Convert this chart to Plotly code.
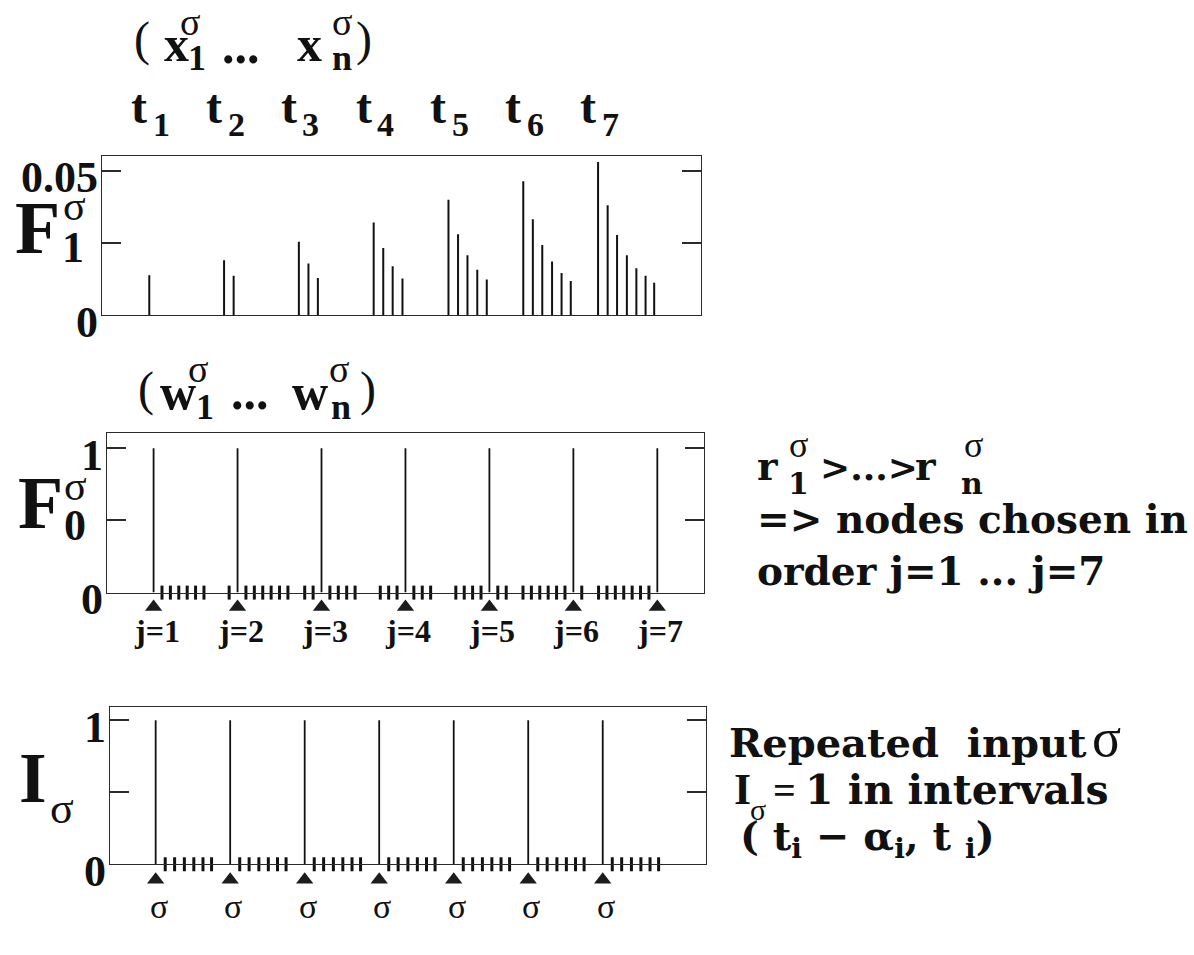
import plotly.graph_objects as go

INK = "#111111"
FRAME = "#2a2a2a"
W, H = 1194, 955

# ---- top panel: F1 activity, one burst per presentation time t_i ----
t_index = [1, 2, 3, 4, 5, 6, 7]
t_labels = ["1", "2", "3", "4", "5", "6", "7"]
node_offsets = [0.0, 0.128, 0.254, 0.385, 0.512, 0.635, 0.75]
f1_values = [
    [0.0138],
    [0.0190, 0.0136],
    [0.0254, 0.0179, 0.0129],
    [0.0321, 0.0232, 0.0169, 0.0127],
    [0.0399, 0.0280, 0.0207, 0.0157, 0.0123],
    [0.0463, 0.0332, 0.0243, 0.0186, 0.0146, 0.0118],
    [0.0530, 0.0380, 0.0277, 0.0207, 0.0162, 0.0136, 0.0112],
]
f1_ticks = [0, 0.025, 0.05]
f1_ticktext = ["0", "", "0.05"]

# ---- middle panel: F0 winners along the node index ----
f0_nodes = [1, 11, 21, 31, 41, 51, 61]
f0_values = [1, 1, 1, 1, 1, 1, 1]
f0_labels = ["j=1", "j=2", "j=3", "j=4", "j=5", "j=6", "j=7"]
f0_idle_nodes = [2, 3, 4, 5, 6, 7, 10, 12, 13, 14, 15, 16, 17, 19, 20, 22, 23, 24,
                 25, 28, 29, 30, 32, 33, 34, 37, 38, 39, 40, 42, 43, 45, 46, 47,
                 48, 49, 50, 52, 54, 55, 56, 57, 58, 59, 60]
unit_ticks = [0, 0.5, 1]
unit_ticktext = ["0", "", "1"]

# ---- bottom panel: repeated input pulses ----
input_times = [1, 2, 3, 4, 5, 6, 7]
input_values = [1, 1, 1, 1, 1, 1, 1]
input_labels = ["σ", "σ", "σ", "σ", "σ", "σ", "σ"]


def spikes(xs, ys):
    """Vertical sticks from zero up to each value, as one broken line."""
    lx, ly = [], []
    for x, y in zip(xs, ys):
        lx += [x, x, None]
        ly += [0, y, None]
    return lx, ly


def node_marks(xs, xa, ya):
    return go.Scatter(x=xs, y=[0] * len(xs), mode="markers",
                      marker=dict(symbol="line-ns", size=10,
                                  line=dict(color=INK, width=3)),
                      xaxis=xa, yaxis=ya, cliponaxis=False, hoverinfo="skip")


def arrows(xs, xa, ya):
    return go.Scatter(x=xs, y=[0.5] * len(xs), mode="markers",
                      marker=dict(symbol="triangle-up", size=15, color="#1c1c1c"),
                      xaxis=xa, yaxis=ya, hoverinfo="skip")


fig = go.Figure()

# top panel sticks
f1_x, f1_y = [], []
for t, vals in zip(t_index, f1_values):
    for off, v in zip(node_offsets, vals):
        f1_x.append(t + off)
        f1_y.append(v)
sx, sy = spikes(f1_x, f1_y)
fig.add_trace(go.Scatter(x=sx, y=sy, mode="lines", line=dict(color=INK, width=2),
                         xaxis="x", yaxis="y", hoverinfo="skip"))

# middle panel sticks, idle-node marks and winner arrows (arrows sit in a strip below)
sx, sy = spikes(f0_nodes, f0_values)
fig.add_trace(go.Scatter(x=sx, y=sy, mode="lines", line=dict(color=INK, width=1.8),
                         xaxis="x2", yaxis="y2", hoverinfo="skip"))
fig.add_trace(node_marks(f0_idle_nodes, "x2", "y2"))
fig.add_trace(arrows(f0_nodes, "x4", "y4"))

# bottom panel sticks, node marks after each pulse and pulse arrows
sx, sy = spikes(input_times, input_values)
fig.add_trace(go.Scatter(x=sx, y=sy, mode="lines", line=dict(color=INK, width=1.8),
                         xaxis="x3", yaxis="y3", hoverinfo="skip"))
trail_x = [t + off for t in input_times for off in node_offsets[1:]]
fig.add_trace(node_marks(trail_x, "x3", "y3"))
fig.add_trace(arrows(input_times, "x5", "y5"))


def xaxis(left, right, rng, anchor):
    return dict(domain=[left / W, right / W], range=rng, showline=True, mirror=True,
                linecolor=FRAME, linewidth=1.3, ticks="", showticklabels=False,
                showgrid=False, zeroline=False, fixedrange=True, anchor=anchor)


def yaxis(top, bottom, rng, vals, text, anchor):
    return dict(domain=[1 - bottom / H, 1 - top / H], range=rng, showline=True,
                mirror="ticks", linecolor=FRAME, linewidth=1.3, ticks="inside",
                ticklen=19, tickwidth=1.5, tickcolor=FRAME, tickvals=vals, ticktext=text,
                tickfont=dict(family="Liberation Serif", size=44, color=INK, weight="bold"),
                ticklabelstandoff=-6, ticklabelshift=6, anchor=anchor,
                showgrid=False, zeroline=False, fixedrange=True)


def strip_x(left, right, rng, anchor):
    return dict(domain=[left / W, right / W], range=rng, visible=False,
                fixedrange=True, anchor=anchor)


def strip_y(top, bottom, anchor):
    return dict(domain=[1 - bottom / H, 1 - top / H], range=[0, 1], visible=False,
                fixedrange=True, anchor=anchor)


annotations = []
ASC = {"Liberation Serif": (0.891, 0.216), "DejaVu Serif": (0.928, 0.236)}


def put(text, x, base, size, family="Liberation Serif", anchor="center",
        xref="paper", xshift=0):
    a, d = ASC[family]
    yc = base - (a - d) / 2 * size
    annotations.append(dict(
        text=text, x=(x / W if xref == "paper" else x), y=1 - yc / H,
        xref=xref, yref="paper", xanchor=anchor, yanchor="middle",
        xshift=xshift, showarrow=False,
        font=dict(family=family, size=size, color=INK)))


# header above the top panel
put("(", 142, 53, 48)
put("<b>x</b>", 176, 58, 50)
put("σ", 190, 32, 38)
put("<b>1</b>", 197, 68, 36)
put("<b>...</b>", 241, 60, 50)
put("<b>x</b>", 309, 58, 50)
put("σ", 342, 32, 38)
put("<b>n</b>", 342, 68, 36)
put(")", 364, 53, 48)

# presentation times above each burst
for t, lab in zip(t_index, t_labels):
    put("<b>t</b>", t, 123, 48, xref="x", xshift=-10)
    put("<b>" + lab + "</b>", t, 137, 34, xref="x", xshift=12)

# vertical axis names
put("<b>F</b>", 37, 257, 74)
put("σ", 74, 224, 42)
put("<b>1</b>", 73, 268, 44)

put("<b>F</b>", 40, 543, 74)
put("σ", 75, 514, 42)
put("<b>0</b>", 75, 556, 44)

put("<b>I</b>", 33, 827, 71)
put("σ", 62, 850, 44)

# header above the middle panel
put("(", 146, 416, 48)
put("<b>w</b>", 178, 420, 50)
put("σ", 198, 392, 38)
put("<b>1</b>", 205, 430, 36)
put("<b>...</b>", 250, 420, 50)
put("<b>w</b>", 310, 420, 50)
put("σ", 339, 392, 38)
put("<b>n</b>", 341, 430, 36)
put(")", 368, 416, 48)

# winner and pulse labels under the panels
for n, lab in zip(f0_nodes, f0_labels):
    put("<b>" + lab + "</b>", n, 662, 32, xref="x2", xshift=3)
for t, lab in zip(input_times, input_labels):
    put(lab, t, 948, 34, xref="x3", xshift=3)

# note beside the middle panel
DV = "DejaVu Serif"
put("<b>r</b>", 755, 493, 39, family=DV, anchor="left")
put("σ", 798, 470, 36)
put("<b>1</b>", 798, 508, 30, family=DV)
put("<b>&gt;...&gt;</b>", 818, 493, 36, family=DV, anchor="left")
put("<b>r</b>", 913, 493, 39, family=DV, anchor="left")
put("σ", 973, 470, 36)
put("<b>n</b>", 972, 508, 30, family=DV)
put("<b>=&gt; nodes chosen in</b>", 755, 548, 39, family=DV, anchor="left")
put("<b>order j=1 ... j=7</b>", 755, 602, 39, family=DV, anchor="left")

# note beside the bottom panel
put("<b>Repeated  input</b>", 727, 780, 40, family=DV, anchor="left")
put("σ", 1106, 780, 54)
put("<b>I</b>", 732, 830, 44, anchor="left")
put("σ", 758, 846, 30)
put("<b>=</b>", 784, 830, 40)
put("<b>1 in intervals</b>", 803, 830, 41, family=DV, anchor="left")
put("<b>( t<sub>i</sub> − α<sub>i</sub>, t <sub>i</sub>)</b>", 738, 880, 40,
    family=DV, anchor="left")

fig.update_layout(
    width=W, height=H, margin=dict(l=0, r=0, t=0, b=0),
    paper_bgcolor="white", plot_bgcolor="white", showlegend=False,
    xaxis=xaxis(102, 701, [0.368, 8.376], "y"),
    yaxis=yaxis(158, 323, [0, 0.055], f1_ticks, f1_ticktext, "x"),
    xaxis2=xaxis(107, 704, [-4.55, 66.56], "y2"),
    yaxis2=yaxis(445, 611, [0, 1.107], unit_ticks, unit_ticktext, "x2"),
    xaxis3=xaxis(110, 706, [0.387, 8.386], "y3"),
    yaxis3=yaxis(730, 893, [0, 1.09], unit_ticks, unit_ticktext, "x3"),
    xaxis4=strip_x(107, 704, [-4.55, 66.56], "y4"),
    yaxis4=strip_y(613, 639, "x4"),
    xaxis5=strip_x(110, 706, [0.387, 8.386], "y5"),
    yaxis5=strip_y(896, 922, "x5"),
    annotations=annotations,
)

fig.write_html("out.html")
